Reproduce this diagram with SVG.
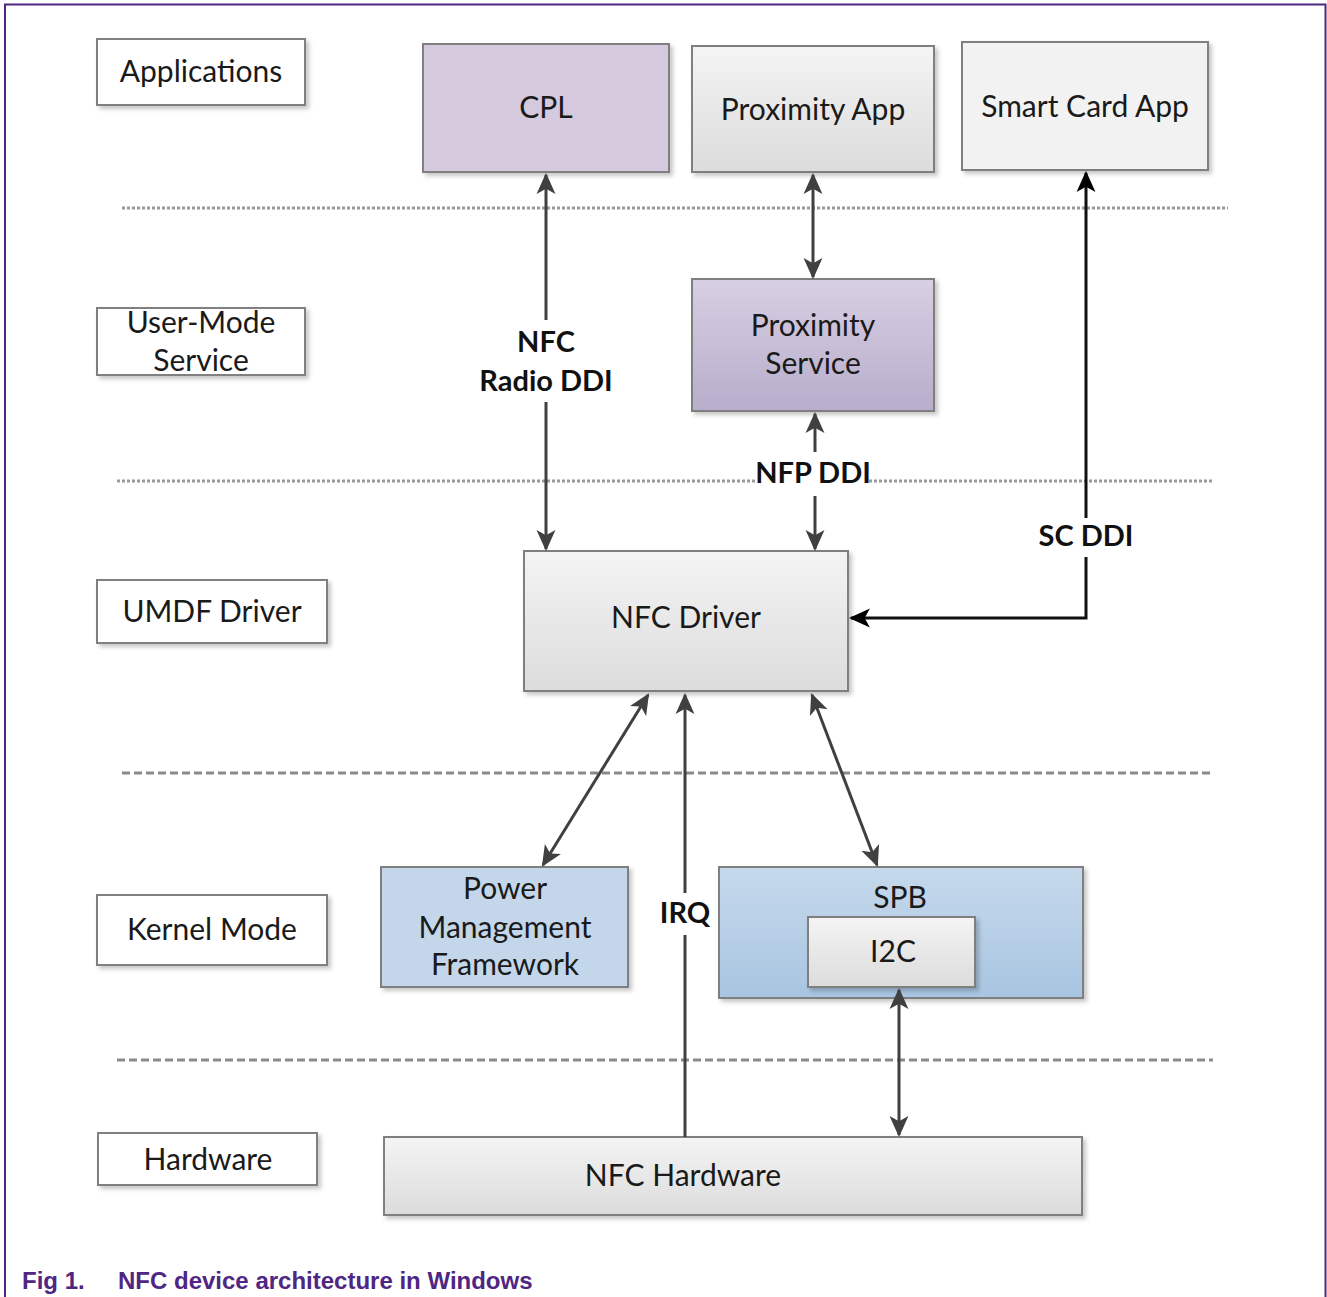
<svg xmlns="http://www.w3.org/2000/svg" width="1327" height="1297" viewBox="0 0 1327 1297">
<defs>
<style>
.lbl{fill:#fff;stroke:#808080;stroke-width:2}
.box{stroke:#7f7f7f;stroke-width:2}
.t{font-family:Lato,"Open Sans","Liberation Sans",sans-serif;font-size:30px;fill:#1a1a1a;text-anchor:middle}
.b{font-family:Lato,"Open Sans","Liberation Sans",sans-serif;font-size:29px;font-weight:bold;fill:#111;text-anchor:middle}
.c{stroke:#404040;stroke-width:3;fill:none}
.k{stroke:#111;stroke-width:3;fill:none}
.dot{stroke:#9a9a9a;stroke-width:3;stroke-dasharray:3 2;fill:none}
.dash{stroke:#8a8a8a;stroke-width:3;stroke-dasharray:8 4;fill:none}
.cap{font-family:"Liberation Sans",Arial,sans-serif;font-size:24px;font-weight:bold;fill:#4f2683}
</style>
<filter id="sh" x="-10%" y="-10%" width="125%" height="130%">
<feDropShadow dx="3" dy="3" stdDeviation="2" flood-color="#000" flood-opacity="0.22"/>
</filter>
<linearGradient id="gGray" x1="0" y1="0" x2="0" y2="1">
<stop offset="0" stop-color="#f4f4f4"/><stop offset="1" stop-color="#dcdcdc"/>
</linearGradient>
<linearGradient id="gPur" x1="0" y1="0" x2="0" y2="1">
<stop offset="0" stop-color="#d7cfe3"/><stop offset="1" stop-color="#b8adcb"/>
</linearGradient>
<linearGradient id="gBlue" x1="0" y1="0" x2="0" y2="1">
<stop offset="0" stop-color="#c6d9ec"/><stop offset="1" stop-color="#a8c5e1"/>
</linearGradient>
<marker id="ah" viewBox="0 0 20 20" refX="18" refY="10" markerWidth="7" markerHeight="7" markerUnits="strokeWidth" orient="auto-start-reverse">
<path d="M0,1 L20,10 L0,19 L5,10 Z" fill="#404040"/>
</marker>
<marker id="ak" viewBox="0 0 20 20" refX="18" refY="10" markerWidth="7" markerHeight="7" markerUnits="strokeWidth" orient="auto-start-reverse">
<path d="M0,1 L20,10 L0,19 L5,10 Z" fill="#000"/>
</marker>
</defs>
<rect width="1327" height="1297" fill="#fff"/>
<path d="M5,1297 V4.5 H1325.5 V1297" fill="none" stroke="#4f2683" stroke-width="2"/>

<g id="layers">
<line class="dot" x1="122" y1="208" x2="1228" y2="208"/>
<line class="dot" x1="117" y1="481" x2="757" y2="481"/>
<line class="dot" x1="869" y1="481" x2="1213" y2="481"/>
<line class="dash" x1="122" y1="773" x2="1213" y2="773"/>
<line class="dash" x1="117" y1="1060" x2="1213" y2="1060"/>
</g>

<g id="lbl-applications"><rect class="lbl" x="97" y="39" width="208" height="66" filter="url(#sh)"/><text class="t" x="201" y="82">Applications</text></g>
<g id="lbl-usermode"><rect class="lbl" x="97" y="308" width="208" height="67" filter="url(#sh)"/><text class="t" x="201" y="333">User-Mode</text><text class="t" x="201" y="371">Service</text></g>
<g id="lbl-umdf"><rect class="lbl" x="97" y="580" width="230" height="63" filter="url(#sh)"/><text class="t" x="212" y="622">UMDF Driver</text></g>
<g id="lbl-kernel"><rect class="lbl" x="97" y="895" width="230" height="70" filter="url(#sh)"/><text class="t" x="212" y="940">Kernel Mode</text></g>
<g id="lbl-hardware"><rect class="lbl" x="98" y="1133" width="219" height="52" filter="url(#sh)"/><text class="t" x="208" y="1170">Hardware</text></g>

<g id="cpl"><rect class="box" x="423" y="44" width="246" height="128" fill="#d5c9de" filter="url(#sh)"/><text class="t" x="546" y="118">CPL</text></g>
<g id="proximity-app"><rect class="box" x="692" y="46" width="242" height="126" fill="url(#gGray)" filter="url(#sh)"/><text class="t" x="813" y="120">Proximity App</text></g>
<g id="smart-card-app"><rect class="box" x="962" y="42" width="246" height="128" fill="#f2f2f2" filter="url(#sh)"/><text class="t" x="1085" y="117">Smart Card App</text></g>
<g id="proximity-service"><rect class="box" x="692" y="279" width="242" height="132" fill="url(#gPur)" filter="url(#sh)"/><text class="t" x="813" y="336">Proximity</text><text class="t" x="813" y="374">Service</text></g>
<g id="nfc-driver"><rect class="box" x="524" y="551" width="324" height="140" fill="url(#gGray)" filter="url(#sh)"/><text class="t" x="686" y="628">NFC Driver</text></g>
<g id="pmf"><rect class="box" x="381" y="867" width="247" height="120" fill="#c4d7ea" filter="url(#sh)"/><text class="t" x="505" y="899">Power</text><text class="t" x="505" y="938">Management</text><text class="t" x="505" y="975">Framework</text></g>
<g id="spb"><rect class="box" x="719" y="867" width="364" height="131" fill="url(#gBlue)" filter="url(#sh)"/><text class="t" x="900" y="908">SPB</text></g>
<g id="i2c"><rect class="box" x="808" y="917" width="167" height="70" fill="url(#gGray)" filter="url(#sh)"/><text class="t" x="893" y="962">I2C</text></g>
<g id="nfc-hardware"><rect class="box" x="384" y="1137" width="698" height="78" fill="url(#gGray)" filter="url(#sh)"/><text class="t" x="683" y="1186">NFC Hardware</text></g>

<g id="connectors">
<path class="c" d="M546,320 V175" marker-end="url(#ah)"/>
<path class="c" d="M546,402 V549" marker-end="url(#ah)"/>
<path class="c" d="M813,175 V277" marker-start="url(#ah)" marker-end="url(#ah)"/>
<path class="c" d="M815,452 V414" marker-end="url(#ah)"/>
<path class="c" d="M815,496 V549" marker-end="url(#ah)"/>
<path class="k" d="M1086,518 V173" marker-end="url(#ak)"/>
<path class="k" d="M1086,557 V618 H851" marker-end="url(#ak)"/>
<path class="c" d="M543,865 L648,695" marker-start="url(#ah)" marker-end="url(#ah)"/>
<path class="c" d="M685,1137 V935"/>
<path class="c" d="M685,893 V695" marker-end="url(#ah)"/>
<path class="c" d="M877,865 L812,695" marker-start="url(#ah)" marker-end="url(#ah)"/>
<path class="c" d="M899,990 V1135" marker-start="url(#ah)" marker-end="url(#ah)"/>
<text class="b" x="546" y="352">NFC</text>
<text class="b" x="546" y="391">Radio DDI</text>
<text class="b" x="813" y="483">NFP DDI</text>
<text class="b" x="1086" y="546">SC DDI</text>
<text class="b" x="685" y="923">IRQ</text>
</g>

<text class="cap" x="22" y="1289">Fig 1.</text>
<text class="cap" x="118" y="1289">NFC device architecture in Windows</text>
</svg>
